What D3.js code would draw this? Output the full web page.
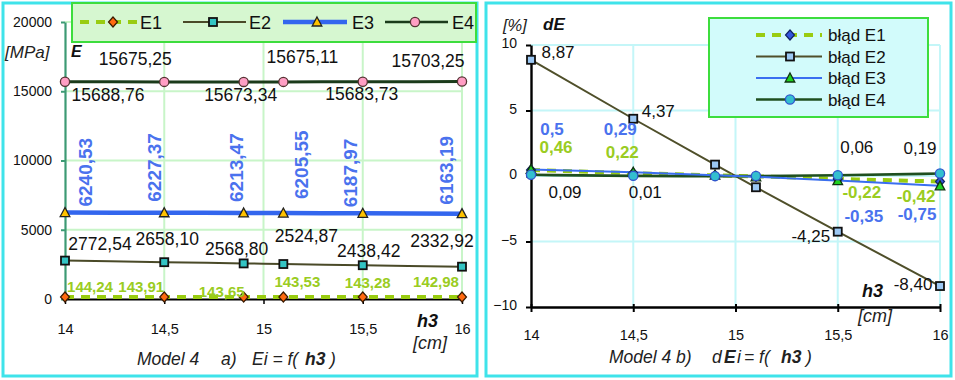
<!DOCTYPE html>
<html>
<head>
<meta charset="utf-8">
<script src="https://cdn.jsdelivr.net/npm/d3@7"></script>
<style>
  html, body { margin: 0; padding: 0; background: #fff; }
  svg { display: block; font-family: "Liberation Sans", Arial, sans-serif; }
</style>
</head>
<body>
<svg id="chart" width="955" height="380"></svg>
<script>
// thickness h3 [cm]
const h3 = [14, 14.5, 14.9, 15.1, 15.5, 16];

// moduli E1..E4 [MPa]
const E1 = [144.24, 143.91, 143.65, 143.53, 143.28, 142.98];
const E2 = [2772.54, 2658.10, 2568.80, 2524.87, 2438.42, 2332.92];
const E3 = [6240.53, 6227.37, 6213.47, 6205.55, 6187.97, 6163.19];
const E4 = [15688.76, 15675.25, 15673.34, 15675.11, 15683.73, 15703.25];

// relative errors dE [%]
const dE1 = [0.46, 0.22, 0.05, -0.03, -0.22, -0.42];
const dE2 = [8.87, 4.37, 0.87, -0.86, -4.25, -8.40];
const dE3 = [0.5, 0.29, 0.06, -0.06, -0.35, -0.75];
const dE4 = [0.09, 0.01, -0.01, 0.00, 0.06, 0.19];

// axis ticks
const xTicks = [14, 14.5, 15, 15.5, 16];
const yTicksA = [0, 5000, 10000, 15000, 20000];
const yTicksB = [-10, -5, 0, 5, 10];

const comma = s => s.replace(".", ",");
const fmt2 = v => comma(v.toFixed(2));
const fmtG = v => comma(String(v));

const svg = d3.select("#chart");

// ---------- helpers ----------
const shapes = {
  diamond: (g, x, y, fill, stroke) => g.append("path")
    .attr("d", `M${x},${y-5}L${x+4.5},${y}L${x},${y+5}L${x-4.5},${y}Z`)
    .attr("fill", fill).attr("stroke", stroke).attr("stroke-width", 1.2),
  square: (g, x, y, fill, stroke) => g.append("rect")
    .attr("x", x-4).attr("y", y-4).attr("width", 8).attr("height", 8)
    .attr("fill", fill).attr("stroke", stroke).attr("stroke-width", 1.8),
  triangle: (g, x, y, fill, stroke) => g.append("path")
    .attr("d", `M${x},${y-5}L${x+4.8},${y+4}L${x-4.8},${y+4}Z`)
    .attr("fill", fill).attr("stroke", stroke).attr("stroke-width", 1.3),
  circle: (g, x, y, fill, stroke) => g.append("circle")
    .attr("cx", x).attr("cy", y).attr("r", 4.6)
    .attr("fill", fill).attr("stroke", stroke).attr("stroke-width", 1.3)
};

function panelFrame(x, y, w, h) {
  svg.append("rect").attr("x", x).attr("y", y).attr("width", w).attr("height", h)
    .attr("fill", "#fff").attr("stroke", "#3fe3ea").attr("stroke-width", 3);
}

// =====================================================================
// Panel a) Ei = f(h3)
// =====================================================================
panelFrame(3, 3, 474, 373);

const xA = d3.scaleLinear().domain([14, 16]).range([65, 462]);
const yA = d3.scaleLinear().domain([0, 20000]).range([299, 22]);
const gA = svg.append("g");

// grid
gA.selectAll(".vg").data(xTicks.slice(1)).join("line")
  .attr("x1", d => xA(d)).attr("x2", d => xA(d))
  .attr("y1", yA(20000)).attr("y2", yA(0))
  .attr("stroke", "#c8f5c8").attr("stroke-width", 2);
gA.selectAll(".hg").data(yTicksA.slice(1)).join("line")
  .attr("x1", xA(14)).attr("x2", xA(16))
  .attr("y1", d => yA(d)).attr("y2", d => yA(d))
  .attr("stroke", "#c8f5c8").attr("stroke-width", 2);

// y axis
const axA = gA.append("g").attr("transform", `translate(${xA(14)},0)`)
  .call(d3.axisLeft(yA).tickValues(yTicksA).tickSize(4).tickSizeOuter(0).tickPadding(9)
    .tickFormat(d3.format("d")));
axA.select(".domain").attr("stroke", "#3d9a74").attr("stroke-width", 2.2);
axA.selectAll(".tick line").attr("stroke", "#3d9a74").attr("stroke-width", 2);
axA.selectAll(".tick text").attr("font-size", 14).attr("fill", "#111")
  .attr("font-family", "Liberation Sans, Arial, sans-serif");

// x axis
const axAx = gA.append("g").attr("transform", `translate(0,${yA(0)})`)
  .call(d3.axisBottom(xA).tickValues(xTicks).tickSize(5).tickSizeOuter(0).tickPadding(20)
    .tickFormat(d => comma(String(d))));
axAx.select(".domain").attr("stroke", "#000").attr("stroke-width", 2.2);
axAx.selectAll(".tick line").attr("stroke", "#000").attr("stroke-width", 1.5);
axAx.selectAll(".tick text").attr("font-size", 14.5).attr("fill", "#111")
  .attr("font-family", "Liberation Sans, Arial, sans-serif");

const curve = d3.curveMonotoneX;
const lineA = d3.line().x((d, i) => xA(h3[i])).y(d => yA(d)).curve(curve);

// series lines
gA.append("path").datum(E1).attr("d", lineA).attr("fill", "none")
  .attr("stroke", "#99cc11").attr("stroke-width", 4).attr("stroke-dasharray", "9,7");
gA.append("path").datum(E2).attr("d", lineA).attr("fill", "none")
  .attr("stroke", "#4a4a28").attr("stroke-width", 2);
gA.append("path").datum(E3).attr("d", lineA).attr("fill", "none")
  .attr("stroke", "#3366ee").attr("stroke-width", 4.5);
gA.append("path").datum(E4).attr("d", lineA).attr("fill", "none")
  .attr("stroke", "#1b3b1b").attr("stroke-width", 3);

// markers
E1.forEach((v, i) => shapes.diamond(gA, xA(h3[i]), yA(v), "#ff6a10", "#3a1a00"));
E2.forEach((v, i) => shapes.square(gA, xA(h3[i]), yA(v), "#33c4c4", "#111"));
E3.forEach((v, i) => shapes.triangle(gA, xA(h3[i]), yA(v), "#ffc200", "#222"));
E4.forEach((v, i) => shapes.circle(gA, xA(h3[i]), yA(v), "#ff9ec4", "#553333"));

// label placement offsets (dx, dy) relative to each point
const offE4 = [[43, 19], [-29, -17], [-3, 19], [19, -19], [-1, 18], [-34, -15]];
const offE2 = [[35, -11], [3, -17], [-7, -8], [23, -22], [6, -8], [-20, -20]];
const offE3 = [[27, -6], [-3, -11], [-1, -11], [25, -14], [-6, -6], [-9, -9]];
const offE1 = [[25, -5], [-23, -5], [-22, 0], [14, -10], [5, -9], [-26, -10]];

E4.forEach((v, i) => gA.append("text")
  .attr("x", xA(h3[i]) + offE4[i][0]).attr("y", yA(v) + offE4[i][1])
  .attr("text-anchor", "middle").attr("font-size", 17.5).attr("fill", "#111")
  .text(fmt2(v)));
E2.forEach((v, i) => gA.append("text")
  .attr("x", xA(h3[i]) + offE2[i][0]).attr("y", yA(v) + offE2[i][1])
  .attr("text-anchor", "middle").attr("font-size", 17.5).attr("fill", "#111")
  .text(fmt2(v)));
E3.forEach((v, i) => gA.append("text")
  .attr("transform", `translate(${xA(h3[i]) + offE3[i][0]},${yA(v) + offE3[i][1]}) rotate(-90)`)
  .attr("text-anchor", "start").attr("font-size", 19).attr("font-weight", "bold")
  .attr("fill", "#4a72ee").text(fmt2(v)));
E1.forEach((v, i) => gA.append("text")
  .attr("x", xA(h3[i]) + offE1[i][0]).attr("y", yA(v) + offE1[i][1])
  .attr("text-anchor", "middle").attr("font-size", 15).attr("font-weight", "bold")
  .attr("fill", "#9acc22").text(fmt2(v)));

// legend a
const legA = gA.append("g");
legA.append("rect").attr("x", 72).attr("y", 3).attr("width", 404).attr("height", 39)
  .attr("fill", "#d6f7d0").attr("stroke", "#3ddd3d").attr("stroke-width", 2);
const legItemsA = [
  { name: "E1", x0: 80, x1: 137, mx: 113, tx: 140, shape: "diamond", fill: "#ff6a10", mstroke: "#3a1a00", stroke: "#99cc11", w: 4, dash: "9,7" },
  { name: "E2", x0: 183, x1: 246, mx: 213, tx: 249, shape: "square", fill: "#33c4c4", mstroke: "#111", stroke: "#4a4a28", w: 2, dash: null },
  { name: "E3", x0: 283, x1: 347, mx: 317, tx: 352, shape: "triangle", fill: "#ffc200", mstroke: "#222", stroke: "#3366ee", w: 4.5, dash: null },
  { name: "E4", x0: 385, x1: 448, mx: 415, tx: 452, shape: "circle", fill: "#ff9ec4", mstroke: "#553333", stroke: "#1b3b1b", w: 2.5, dash: null }
];
legItemsA.forEach(it => {
  const ly = 22;
  legA.append("line").attr("x1", it.x0).attr("x2", it.x1).attr("y1", ly).attr("y2", ly)
    .attr("stroke", it.stroke).attr("stroke-width", it.w)
    .attr("stroke-dasharray", it.dash);
  shapes[it.shape](legA, it.mx, ly, it.fill, it.mstroke);
  legA.append("text").attr("x", it.tx).attr("y", 29).attr("font-size", 18)
    .attr("fill", "#111").text(it.name);
});

// axis titles a
gA.append("text").attr("x", 5).attr("y", 58).attr("font-size", 17).attr("font-style", "italic")
  .attr("fill", "#222").text("[MPa]");
gA.append("text").attr("x", 71).attr("y", 57).attr("font-size", 16).attr("font-style", "italic")
  .attr("font-weight", "bold").attr("fill", "#111").text("E");
gA.append("text").attr("x", 417).attr("y", 327).attr("font-size", 18).attr("font-style", "italic")
  .attr("font-weight", "bold").attr("fill", "#111").text("h3");
gA.append("text").attr("x", 413).attr("y", 349).attr("font-size", 18).attr("font-style", "italic")
  .attr("fill", "#222").text("[cm]");

// caption a
const capA = gA.append("text").attr("y", 365).attr("font-size", 17.5).attr("font-style", "italic").attr("fill", "#222");
capA.append("tspan").attr("x", 137).text("Model 4");
capA.append("tspan").attr("x", 221).text("a)");
capA.append("tspan").attr("x", 252).text("Ei = f(");
capA.append("tspan").attr("x", 305).attr("font-weight", "bold").text("h3");
capA.append("tspan").attr("x", 330).text(")");

// =====================================================================
// Panel b) dEi = f(h3)
// =====================================================================
panelFrame(486, 3, 465, 373);

const xB = d3.scaleLinear().domain([14, 16]).range([531, 940]);
const yB = d3.scaleLinear().domain([-10, 10]).range([307, 45]);
const gB = svg.append("g");

gB.selectAll(".vg").data(xTicks.slice(1)).join("line")
  .attr("x1", d => xB(d)).attr("x2", d => xB(d))
  .attr("y1", yB(10)).attr("y2", yB(-10))
  .attr("stroke", "#c4f6f8").attr("stroke-width", 2);
gB.selectAll(".hg").data(yTicksB.slice(1)).join("line")
  .attr("x1", xB(14)).attr("x2", xB(16))
  .attr("y1", d => yB(d)).attr("y2", d => yB(d))
  .attr("stroke", "#c4f6f8").attr("stroke-width", 2);

const ayB = gB.append("g").attr("transform", `translate(${xB(14)},0)`)
  .call(d3.axisLeft(yB).tickValues(yTicksB).tickSize(5).tickSizeOuter(0).tickPadding(9)
    .tickFormat(d3.format("d")));
ayB.select(".domain").attr("stroke", "#000").attr("stroke-width", 2.4);
ayB.selectAll(".tick line").attr("stroke", "#000").attr("stroke-width", 2);
ayB.selectAll(".tick text").attr("font-size", 14).attr("fill", "#111")
  .attr("font-family", "Liberation Sans, Arial, sans-serif").attr("dy", "0.2em");

const axB = gB.append("g").attr("transform", `translate(0,${yB(-10)})`)
  .call(d3.axisBottom(xB).tickValues(xTicks).tickSize(5).tickSizeOuter(0).tickPadding(18)
    .tickFormat(d => comma(String(d))));
axB.select(".domain").attr("stroke", "#000").attr("stroke-width", 2.4);
axB.selectAll(".tick line").attr("stroke", "#000").attr("stroke-width", 2).attr("y1", -3);
axB.selectAll(".tick text").attr("font-size", 14.5).attr("fill", "#111")
  .attr("font-family", "Liberation Sans, Arial, sans-serif");

const lineB = d3.line().x((d, i) => xB(h3[i])).y(d => yB(d)).curve(curve);

gB.append("path").datum(dE2).attr("d", lineB).attr("fill", "none")
  .attr("stroke", "#4f4f2a").attr("stroke-width", 2);
gB.append("path").datum(dE1).attr("d", lineB).attr("fill", "none")
  .attr("stroke", "#99cc11").attr("stroke-width", 4).attr("stroke-dasharray", "9,7");
gB.append("path").datum(dE4).attr("d", lineB).attr("fill", "none")
  .attr("stroke", "#1f4f1f").attr("stroke-width", 2.6);
gB.append("path").datum(dE3).attr("d", lineB).attr("fill", "none")
  .attr("stroke", "#3a6ef0").attr("stroke-width", 2);

dE2.forEach((v, i) => shapes.square(gB, xB(h3[i]), yB(v), "#9cc8f4", "#111"));
dE1.forEach((v, i) => shapes.diamond(gB, xB(h3[i]), yB(v), "#3355dd", "#112266"));
dE3.forEach((v, i) => shapes.triangle(gB, xB(h3[i]), yB(v), "#1ed21e", "#113311"));
dE4.forEach((v, i) => shapes.circle(gB, xB(h3[i]), yB(v), "#33bfcf", "#2f55cc"));

// label offsets (null = no label)
const offD2 = [[27, -2], [25, -2], null, null, [-27, 10], [-27, 4]];
const offD1 = [[25, -17], [-11, -15], null, null, [24, 19], [-24, 20]];
const offD3 = [[21, -34], [-13, -37], null, null, [26, 41], [-23, 34]];
const offD4 = [[34, 23], [12, 22], null, null, [19, -22], [-20, -20]];

function labelsB(vals, offs, fmt, color, bold) {
  vals.forEach((v, i) => {
    if (!offs[i]) return;
    gB.append("text")
      .attr("x", xB(h3[i]) + offs[i][0]).attr("y", yB(v) + offs[i][1])
      .attr("text-anchor", "middle").attr("font-size", 17)
      .attr("font-weight", bold ? "bold" : "normal").attr("fill", color)
      .text(fmt(v));
  });
}
labelsB(dE2, offD2, fmt2, "#111", false);
labelsB(dE1, offD1, fmt2, "#9acc22", true);
labelsB(dE3, offD3, fmtG, "#4a72ee", true);
labelsB(dE4, offD4, fmt2, "#111", false);

// legend b
const legB = gB.append("g");
legB.append("rect").attr("x", 709).attr("y", 18).attr("width", 219).attr("height", 99)
  .attr("fill", "#d2fbfb").attr("stroke", "#3ddd3d").attr("stroke-width", 2);
const legItemsB = [
  { name: "błąd E1", shape: "diamond", fill: "#3355dd", mstroke: "#112266", stroke: "#99cc11", w: 4, dash: "9,7" },
  { name: "błąd E2", shape: "square", fill: "#9cc8f4", mstroke: "#111", stroke: "#4f4f2a", w: 2, dash: null },
  { name: "błąd E3", shape: "triangle", fill: "#1ed21e", mstroke: "#113311", stroke: "#3a6ef0", w: 2, dash: null },
  { name: "błąd E4", shape: "circle", fill: "#33bfcf", mstroke: "#2f55cc", stroke: "#1f4f1f", w: 2.4, dash: null }
];
legItemsB.forEach((it, k) => {
  const ly = 35 + k * 21.5;
  legB.append("line").attr("x1", 756).attr("x2", 822).attr("y1", ly).attr("y2", ly)
    .attr("stroke", it.stroke).attr("stroke-width", it.w).attr("stroke-dasharray", it.dash);
  shapes[it.shape](legB, 790, ly, it.fill, it.mstroke);
  legB.append("text").attr("x", 828).attr("y", ly + 6).attr("font-size", 17)
    .attr("fill", "#111").text(it.name);
});

// axis titles b
gB.append("text").attr("x", 503).attr("y", 31).attr("font-size", 16.5).attr("font-style", "italic")
  .attr("fill", "#222").text("[%]");
gB.append("text").attr("x", 543).attr("y", 30).attr("font-size", 17).attr("font-style", "italic")
  .attr("font-weight", "bold").attr("fill", "#111").text("dE");
gB.append("text").attr("x", 862).attr("y", 297).attr("font-size", 18).attr("font-style", "italic")
  .attr("font-weight", "bold").attr("fill", "#111").text("h3");
gB.append("text").attr("x", 858).attr("y", 322).attr("font-size", 18).attr("font-style", "italic")
  .attr("fill", "#222").text("[cm]");

// caption b
const capB = gB.append("text").attr("y", 363).attr("font-size", 17.5).attr("font-style", "italic").attr("fill", "#222");
capB.append("tspan").attr("x", 609).text("Model 4");
capB.append("tspan").attr("x", 676).text("b)");
capB.append("tspan").attr("x", 712).text("d");
capB.append("tspan").attr("x", 724).attr("font-weight", "bold").text("E");
capB.append("tspan").attr("x", 737).text("i");
capB.append("tspan").attr("x", 744).text("= f(");
capB.append("tspan").attr("x", 781).attr("font-weight", "bold").text("h3");
capB.append("tspan").attr("x", 806).text(")");
</script>
</body>
</html>
